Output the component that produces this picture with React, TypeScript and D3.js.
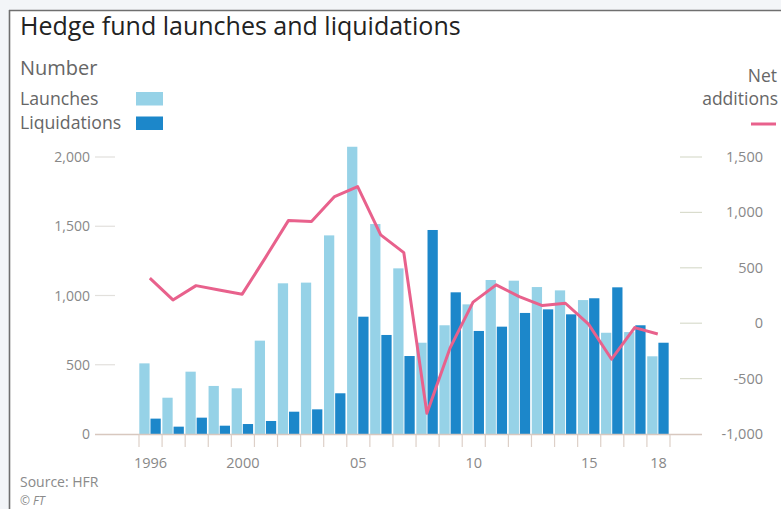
import React from "react";
import * as d3 from "d3";

const years = [1996, 1997, 1998, 1999, 2000, 2001, 2002, 2003, 2004, 2005, 2006, 2007, 2008, 2009, 2010, 2011, 2012, 2013, 2014, 2015, 2016, 2017, 2018];
const launches = [510, 262, 450, 347, 330, 674, 1088, 1093, 1434, 2074, 1516, 1196, 659, 785, 936, 1112, 1107, 1061, 1037, 967, 731, 736, 561];
const liquidations = [111, 53, 118, 60, 72, 94, 161, 178, 294, 847, 715, 563, 1473, 1023, 744, 775, 874, 900, 864, 980, 1059, 785, 659];
const netAdditions = [406, 210, 339, 300, 262, 590, 926, 917, 1143, 1233, 797, 637, -812, -225, 190, 346, 240, 159, 180, -9, -325, -40, -97];
const leftTicks = [0, 500, 1000, 1500, 2000];
const rightTicks = [-1000, -500, 0, 500, 1000, 1500];
const xLabelYears = [1996, 2000, 2005, 2010, 2015, 2018];
const xLabelText = ["1996", "2000", "05", "10", "15", "18"];

const FONT = "'Open Sans', 'Noto Sans', sans-serif";
const C_LAUNCH = "#96d2e7";
const C_LIQ = "#1c87ca";
const C_NET = "#e8618c";

export default function App() {
  const x = d3.scaleBand<number>().domain(years).range([139, 670]).padding(0);
  const yL = d3.scaleLinear().domain([0, 2000]).range([434, 157]);
  const yR = d3.scaleLinear().domain([-1000, 1500]).range([434, 157]);
  const bw = x.bandwidth();
  const barW = bw * 0.445;
  const line = d3
    .line<number>()
    .x((_, i) => (x(years[i]) as number) + bw * 0.47)
    .y((d) => yR(d));

  return (
    <svg
      width={781}
      height={509}
      style={{ position: "absolute", left: 0, top: 0, background: "#f3f5f8" }}
      fontFamily={FONT}
    >
      <rect x={9} y={10} width={772} height={499} fill="#ffffff" />
      <line x1={9.5} y1={10} x2={9.5} y2={509} stroke="#6f6f6f" strokeWidth={1.6} />
      <line x1={9} y1={10.5} x2={781} y2={10.5} stroke="#6f6f6f" strokeWidth={1.6} />

      <text x={20} y={34.5} fontSize={25} fill="#222">Hedge fund launches and liquidations</text>
      <text x={20} y={75} fontSize={20} fill="#666">Number</text>
      <text x={20} y={105} fontSize={17.7} fill="#666">Launches</text>
      <rect x={136} y={92} width={27} height={13.5} fill={C_LAUNCH} />
      <text x={20} y={128.5} fontSize={17.7} fill="#666">Liquidations</text>
      <rect x={136} y={116.5} width={27} height={13.5} fill={C_LIQ} />

      <text x={777} y={82} fontSize={17.5} fill="#666" textAnchor="end">Net</text>
      <text x={778} y={105} fontSize={17.5} fill="#666" textAnchor="end">additions</text>
      <line x1={751} y1={124} x2={776} y2={124} stroke={C_NET} strokeWidth={3} />

      {leftTicks.map((t) => (
        <g key={"l" + t}>
          <text x={90} y={yL(t) + 5} fontSize={14} fill="#888" textAnchor="end">
            {d3.format(",")(t)}
          </text>
          {t !== 0 && (
            <line x1={95} x2={115} y1={yL(t)} y2={yL(t)} stroke="#e2e0dc" strokeWidth={1.2} />
          )}
        </g>
      ))}
      {rightTicks.map((t) => (
        <g key={"r" + t}>
          <text x={763} y={yR(t) + 5} fontSize={14.5} fill="#888" textAnchor="end">
            {d3.format(",")(t).replace("−", "-")}
          </text>
          {t !== -1000 && (
            <line x1={680} x2={702} y1={yR(t)} y2={yR(t)} stroke="#d9dccd" strokeWidth={1.2} />
          )}
        </g>
      ))}

      {years.map((yr, i) => (
        <g key={yr}>
          <rect
            x={(x(yr) as number) + 0.3}
            y={yL(launches[i])}
            width={barW}
            height={yL(0) - yL(launches[i])}
            fill={C_LAUNCH}
          />
          <rect
            x={(x(yr) as number) + 0.3 + barW + 0.9}
            y={yL(liquidations[i])}
            width={barW}
            height={yL(0) - yL(liquidations[i])}
            fill={C_LIQ}
          />
        </g>
      ))}

      <line x1={95} x2={702} y1={434.5} y2={434.5} stroke="#d8c8bf" strokeWidth={1.4} />
      {[...years, 2019].map((yr, i) => {
        const px = 139 + i * bw;
        return <line key={"t" + yr} x1={px} x2={px} y1={434.5} y2={447} stroke="#ddd0c8" strokeWidth={1.2} />;
      })}
      {xLabelYears.map((yr, i) => (
        <text
          key={"xl" + yr}
          x={(x(yr) as number) + bw / 2}
          y={468}
          fontSize={14.5}
          fill="#888"
          textAnchor="middle"
        >
          {xLabelText[i]}
        </text>
      ))}

      <path d={line(netAdditions) || ""} fill="none" stroke={C_NET} strokeWidth={3} strokeLinejoin="round" />

      <text x={20} y={487} fontSize={14} fill="#8a8a8a">Source: HFR</text>
      <text x={20} y={505} fontSize={12} fill="#8a8a8a" fontStyle="italic">© FT</text>
    </svg>
  );
}
